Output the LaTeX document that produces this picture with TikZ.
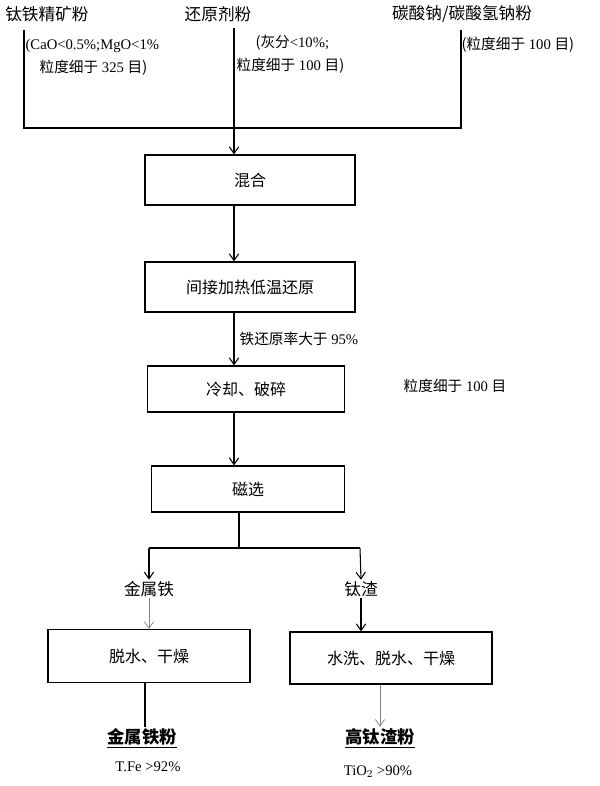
\documentclass[tikz,border=0pt]{standalone}
\usepackage{fontspec}
\setmainfont{Liberation Serif}
\newfontfamily\cjk{Noto Sans CJK SC}
\newcommand\zh[1]{{\cjk #1}}
\usetikzlibrary{arrows.meta}
\begin{document}
\begin{tikzpicture}[x=0.75pt,y=-0.75pt,
  box/.style={draw,line width=0.9pt,minimum width=#1*0.75pt,inner sep=0pt,font=\cjk\fontsize{12}{14}\selectfont},
  txt/.style={inner sep=1pt,font=\fontsize{12.5}{14}\selectfont},
  sm/.style={inner sep=1pt,font=\fontsize{11}{12}\selectfont},
  ln/.style={line width=0.8pt},
  arr/.style={line width=0.8pt,-{Straight Barb[length=5pt,width=7pt]}},
  garr/.style={line width=0.5pt,draw=gray,-{Straight Barb[length=5pt,width=7pt]}}]
\fill[white] (0,0) rectangle (600,786);
\node[txt] (a) at (47,14) {\zh{钛铁精矿粉}};
\node[txt] (b) at (218,14) {\zh{还原剂粉}};
\node[txt] (c) at (462,14) {\zh{碳酸钠/碳酸氢钠粉}};
\node[sm,anchor=west] (a1) at (24,46) {(CaO<0.5\%;MgO<1\%};
\node[sm,anchor=west] (a2) at (38,68) {\zh{粒度细于} 325 \zh{目)}};
\node[sm,anchor=west] (b1) at (254,43) {\zh{(灰分}<10\%;};
\node[sm,anchor=west] (b2) at (235,66) {\zh{粒度细于} 100 \zh{目)}};
\node[sm,anchor=west] (c1) at (460,45) {\zh{(粒度细于} 100 \zh{目)}};
\coordinate (L) at (24,30); \coordinate (R) at (461,30);
\coordinate (LB) at (24,128); \coordinate (RB) at (461,128);
\coordinate (CT) at (234,28);
\draw[ln] (L) -- (LB) -- (RB) -- (R);
\node[box=210,minimum height=50*0.75pt] (mix) at (250,180) {混合};
\draw[arr] (CT) -- (mix.north -| CT);
\node[box=210,minimum height=50*0.75pt] (red) at (250,287) {间接加热低温还原};
\draw[arr] (mix.south -| CT) -- (red.north -| CT);
\node[box=197,minimum height=46*0.75pt] (cool) at (246,389) {冷却、破碎};
\draw[arr] (red.south -| CT) -- (cool.north -| CT);
\node[sm,anchor=west] (rr) at (238,339) {\zh{铁还原率大于} 95\%};
\node[sm] (pg) at (455,386) {\zh{粒度细于} 100 \zh{目}};
\node[box=193,minimum height=46*0.75pt] (mag) at (248,489) {磁选};
\draw[arr] (cool.south -| CT) -- (mag.north -| CT);
\coordinate (J) at (239,548); \coordinate (JL) at (149,548); \coordinate (JR) at (360,548);
\node[txt] (fe) at (149,589) {\zh{金属铁}};
\node[txt] (ti) at (361,589) {\zh{钛渣}};
\draw[ln] (mag.south -| J) -- (J);
\draw[ln] (JL) -- (JR);
\draw[arr] (JL) -- (fe.north);
\draw[arr] (JR) -- (ti.north);
\node[box=202,minimum height=53*0.75pt] (d1) at (149,656) {脱水、干燥};
\node[box=202,minimum height=52*0.75pt] (d2) at (391,658) {水洗、脱水、干燥};
\draw[garr] (fe.south) -- (d1.north -| fe);
\draw[arr] (ti.south) -- (d2.north -| ti);
\node[txt,font=\cjk\bfseries\fontsize{13}{14}\selectfont] (p1) at (142,738) {\underline{金属铁粉}};
\node[txt,font=\cjk\bfseries\fontsize{13}{14}\selectfont] (p2) at (380,738) {\underline{高钛渣粉}};
\draw[ln] (d1.south -| 145,0) -- (p1.north -| 145,0);
\draw[garr] (d2.south -| 380,0) -- (p2.north);
\node[sm] (t1) at (148,767) {T.Fe >92\%};
\node[sm] (t2) at (378,772) {TiO$_2$ >90\%};
\end{tikzpicture}
\end{document}
